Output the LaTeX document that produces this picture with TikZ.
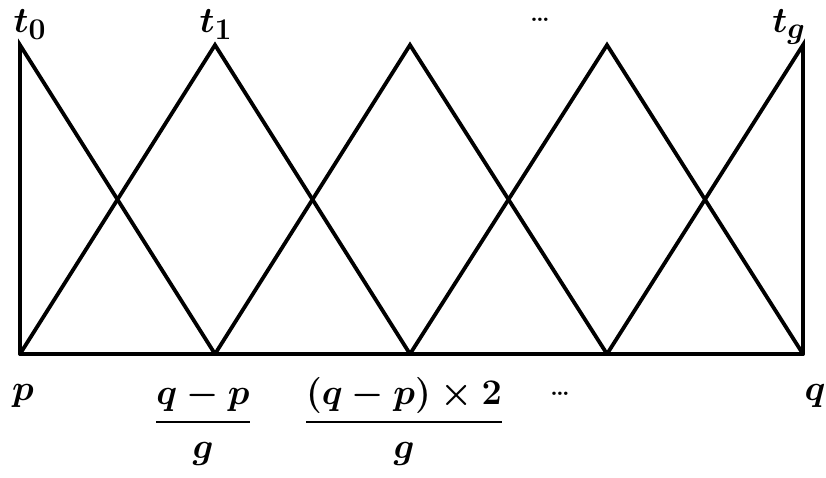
\documentclass[tikz,border=0pt]{standalone}
\usepackage{amsmath}
\usepackage{graphicx}
\begin{document}
\begin{tikzpicture}[x=1pt,y=-1pt,
  edge/.style={line width=3.8pt,line join=miter,line cap=round},
  lbl/.style={inner sep=0pt,font=\fontsize{24.88}{30}\selectfont\boldmath},
  dotslbl/.style={inner sep=0pt,font=\fontsize{24}{28}\selectfont\bfseries}]
\useasboundingbox (0,0) rectangle (826,478);
% base points
\coordinate (b0) at (20,354);
\coordinate (b1) at (215,354);
\coordinate (b2) at (410,354);
\coordinate (b3) at (607,354);
\coordinate (b4) at (803,354);
% peaks
\coordinate (p0) at (20,45);
\coordinate (p1) at (215,45);
\coordinate (p2) at (410,45);
\coordinate (p3) at (607,45);
\coordinate (p4) at (803,45);
% shapes
\draw[edge] (b0) -- (b4);
\draw[edge] (b0) -- (p0) -- (b1);
\draw[edge] (b0) -- (p1) -- (b2);
\draw[edge] (b1) -- (p2) -- (b3);
\draw[edge] (b2) -- (p3) -- (b4);
\draw[edge] (b3) -- (p4) -- (b4);
% top labels
\node[lbl,anchor=base] (t0) at (30,33) {\scalebox{1.45}{$t_0$}};
\node[lbl,anchor=base] (t1) at (216,33) {\scalebox{1.45}{$t_1$}};
\node[dotslbl,anchor=base] (tdots) at (540,22) {\dots};
\node[lbl,anchor=base] (tg) at (789,33) {\scalebox{1.45}{$t_g$}};
% bottom labels
\node[lbl,anchor=base] (lp) at (23,400) {\scalebox{1.45}{$p$}};
\node[lbl,anchor=base] (f1) at (203,431) {\scalebox{1.45}{$\dfrac{q-p}{g}$}};
\node[lbl,anchor=base] (f2) at (404,431) {\scalebox{1.45}{$\dfrac{(q-p)\times 2}{g}$}};
\node[dotslbl,anchor=base] (bdots) at (560,395) {\dots};
\node[lbl,anchor=base] (lq) at (815,400) {\scalebox{1.45}{$q$}};
\end{tikzpicture}
\end{document}
